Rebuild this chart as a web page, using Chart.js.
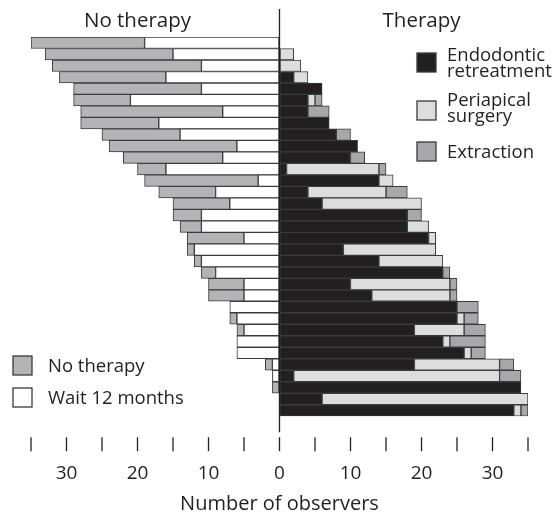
<!DOCTYPE html>
<html>
<head>
<meta charset="utf-8">
<title>Number of observers</title>
<script src="https://cdn.jsdelivr.net/npm/chart.js@4.4.1/dist/chart.umd.min.js"></script>
<style>
  html, body { margin: 0; padding: 0; background: #ffffff; }
  #chart-wrap { width: 554px; height: 513px; }
</style>
</head>
<body>
<div id="chart-wrap">
  <canvas id="observers-chart" width="554" height="513"></canvas>
</div>
<script>
// 行（症例）: 上から順に33例
const caseLabels = ['1', '2', '3', '4', '5', '6', '7', '8', '9', '10', '11',
    '12', '13', '14', '15', '16', '17', '18', '19', '20', '21', '22',
    '23', '24', '25', '26', '27', '28', '29', '30', '31', '32', '33'];

// 治療しない側（左）: 12か月経過観察 / 治療なし
const waitData = [19, 15, 11, 16, 11, 21, 8, 17, 14, 6, 8, 16, 3, 9, 7, 11, 11,
    5, 12, 11, 9, 5, 5, 7, 6, 5, 6, 6, 1, 1, 0, 0, 0];
const noTherapyData = [16, 18, 21, 15, 18, 8, 20, 11, 11, 18, 14, 4, 16, 8, 8, 4, 3,
    8, 1, 1, 2, 5, 5, 0, 1, 1, 0, 0, 1, 0, 1, 0, 0];

// 治療する側（右）: 再根管治療 / 歯根端切除術 / 抜歯
const endoData = [0, 0, 0, 2, 6, 4, 4, 7, 8, 11, 10, 1, 14, 4, 6, 18, 18,
    21, 9, 14, 23, 10, 13, 25, 25, 19, 23, 26, 19, 2, 34, 6, 33];
const surgeryData = [0, 2, 3, 2, 0, 1, 0, 0, 0, 0, 0, 13, 2, 11, 14, 0, 3,
    1, 13, 9, 0, 14, 11, 0, 1, 7, 1, 1, 12, 29, 0, 29, 1];
const extractionData = [0, 0, 0, 0, 0, 1, 3, 0, 2, 0, 2, 1, 0, 3, 0, 2, 0,
    0, 0, 0, 1, 1, 1, 3, 2, 3, 5, 2, 2, 3, 0, 0, 1];

// 軸の目盛り
const tickValues = [-30, -20, -10, 0, 10, 20, 30];
const markValues = [-35, -30, -25, -20, -15, -10, -5, 0, 5, 10, 15, 20, 25, 30, 35];

// 色
const TEXT = '#231f20';
const EDGE = '#3b3a3c';
const COLORS = {
    wait: '#ffffff',
    noTherapy: '#b2b4b7',
    endo: '#231f20',
    surgery: '#dcdddf',
    extraction: '#a6a8ab'
};

const FONT = "'Open Sans', 'DejaVu Sans', sans-serif";

// 棒の共通設定
function barSet(label, data, color) {
    return {
        label: label,
        data: data,
        backgroundColor: color,
        borderColor: EDGE,
        borderWidth: 1,
        borderSkipped: false,
        barPercentage: 1,
        categoryPercentage: 1,
        stack: 'observers'
    };
}

// 凡例の四角
function legendBox(ctx, x, y, color) {
    ctx.fillStyle = color;
    ctx.fillRect(x, y, 19, 19);
    ctx.strokeStyle = EDGE;
    ctx.lineWidth = 1.3;
    ctx.strokeRect(x, y, 19, 19);
}

// 見出し・凡例・目盛り線・中央線を描く
const decorPlugin = {
    id: 'decor',
    afterDraw(chart) {
        const { ctx, chartArea } = chart;
        const x = chart.scales.x;
        const zeroX = x.getPixelForValue(0);

        ctx.save();

        // 中央の0ライン
        ctx.strokeStyle = TEXT;
        ctx.lineWidth = 1.3;
        ctx.beginPath();
        ctx.moveTo(zeroX, 9);
        ctx.lineTo(zeroX, chartArea.bottom + 16);
        ctx.stroke();

        // 5刻みの目盛り線
        markValues.forEach(v => {
            const px = x.getPixelForValue(v);
            ctx.beginPath();
            ctx.moveTo(px, chartArea.bottom + 21);
            ctx.lineTo(px, chartArea.bottom + 35);
            ctx.stroke();
        });

        // 左右の見出し
        ctx.fillStyle = TEXT;
        ctx.font = `20.5px ${FONT}`;
        ctx.textAlign = 'center';
        ctx.textBaseline = 'alphabetic';
        ctx.fillText('No therapy', x.getPixelForValue(-20), 27);
        ctx.fillText('Therapy', x.getPixelForValue(20), 27);

        // 凡例（右）
        ctx.font = `18.5px ${FONT}`;
        ctx.textAlign = 'left';
        legendBox(ctx, 417, 53, COLORS.endo);
        legendBox(ctx, 417, 101, COLORS.surgery);
        legendBox(ctx, 417, 142, COLORS.extraction);
        ctx.fillStyle = TEXT;
        ctx.fillText('Endodontic', 447, 61);
        ctx.fillText('retreatment', 447, 77);
        ctx.fillText('Periapical', 447, 106);
        ctx.fillText('surgery', 447, 122);
        ctx.fillText('Extraction', 447, 158);

        // 凡例（左）
        legendBox(ctx, 13, 356, COLORS.noTherapy);
        legendBox(ctx, 13, 388, COLORS.wait);
        ctx.fillStyle = TEXT;
        ctx.fillText('No therapy', 48, 372);
        ctx.fillText('Wait 12 months', 48, 404);

        ctx.restore();
    }
};

document.addEventListener('DOMContentLoaded', function() {
    const ctx = document.getElementById('observers-chart');

    new Chart(ctx, {
        type: 'bar',
        data: {
            labels: caseLabels,
            datasets: [
                // 負側は0に近い順に積む
                barSet('Wait 12 months', waitData.map(v => -v), COLORS.wait),
                barSet('No therapy', noTherapyData.map(v => -v), COLORS.noTherapy),
                barSet('Endodontic retreatment', endoData, COLORS.endo),
                barSet('Periapical surgery', surgeryData, COLORS.surgery),
                barSet('Extraction', extractionData, COLORS.extraction)
            ]
        },
        options: {
            indexAxis: 'y',
            responsive: false,
            animation: false,
            devicePixelRatio: 1,
            layout: {
                padding: { left: 31, right: 26, top: 37, bottom: 0 }
            },
            plugins: {
                legend: { display: false },
                tooltip: { enabled: false }
            },
            scales: {
                x: {
                    type: 'linear',
                    stacked: true,
                    min: -35,
                    max: 35,
                    afterBuildTicks: function(scale) {
                        scale.ticks = tickValues.map(v => ({ value: v }));
                    },
                    grid: {
                        display: true,
                        drawOnChartArea: false,
                        drawTicks: true,
                        tickLength: 46,
                        color: 'rgba(0,0,0,0)'
                    },
                    border: { display: false },
                    ticks: {
                        padding: 0,
                        color: TEXT,
                        font: { family: FONT, size: 19 },
                        maxRotation: 0,
                        autoSkip: false,
                        callback: function(value) {
                            return Math.abs(value).toString();
                        }
                    },
                    title: {
                        display: true,
                        text: 'Number of observers',
                        color: TEXT,
                        font: { family: FONT, size: 20 },
                        padding: { top: 7, bottom: -3 }
                    }
                },
                y: {
                    type: 'category',
                    stacked: true,
                    display: false
                }
            }
        },
        plugins: [decorPlugin]
    });
});
</script>
</body>
</html>
